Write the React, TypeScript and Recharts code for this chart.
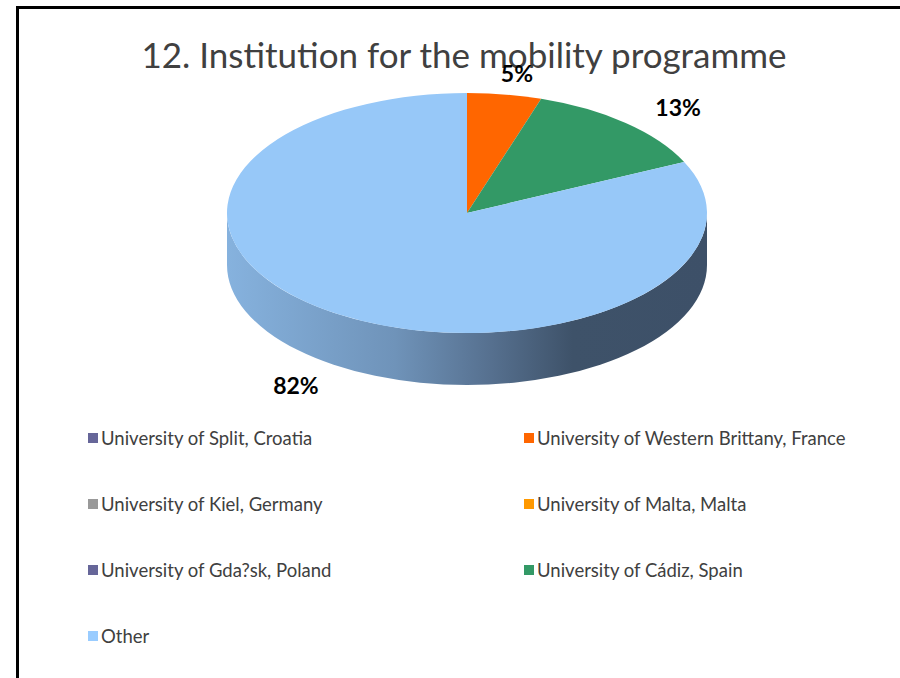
import { PieChart, Pie, Legend } from "recharts"

const institutions = [
  "University of Split, Croatia",
  "University of Western Brittany, France",
  "University of Kiel, Germany",
  "University of Malta, Malta",
  "University of Gda?sk, Poland",
  "University of Cádiz, Spain",
  "Other",
]
const shares = [0, 5, 0, 0, 0, 13, 82]
const colors = ["#666699", "#FF6600", "#999999", "#FF9900", "#666699", "#339966", "#97C8F8"]
const legendColors = ["#666699", "#FF6600", "#999999", "#FF9900", "#666699", "#339966", "#99CCFF"]

const data = institutions.map((name, i) => ({ name, value: shares[i], fill: colors[i] }))

const TILT = 0.5 // ry / rx
const DEPTH = 52
const RAD = Math.PI / 180

// point on the flattened (elliptical) pie
const pt = (cx: number, cy: number, r: number, a: number, dy = 0) =>
  `${cx + r * Math.cos(a * RAD)},${cy - r * TILT * Math.sin(a * RAD) + dy}`

function Slice3D(props: any) {
  const { cx, cy, outerRadius: r, startAngle, endAngle, fill, index } = props
  if (Math.abs(startAngle - endAngle) < 0.01) return <g />
  const rx = r
  const ry = r * TILT
  const large = Math.abs(startAngle - endAngle) > 180 ? 1 : 0
  const top = `M${cx},${cy} L${pt(cx, cy, r, startAngle)} A${rx} ${ry} 0 ${large} 1 ${pt(cx, cy, r, endAngle)} Z`

  // visible front wall: angles between -180 and 0
  const hi = Math.min(Math.max(startAngle, endAngle), 0)
  const lo = Math.max(Math.min(startAngle, endAngle), -180)
  let side = null
  if (hi > lo) {
    const d = `M${pt(cx, cy, r, hi)} A${rx} ${ry} 0 0 1 ${pt(cx, cy, r, lo)} L${pt(cx, cy, r, lo, DEPTH)} A${rx} ${ry} 0 0 0 ${pt(cx, cy, r, hi, DEPTH)} Z`
    side = <path d={d} fill={index === 6 ? "url(#sideGrad)" : fill} stroke="none" />
  }
  return (
    <g>
      {side}
      <path d={top} fill={fill} stroke="none" />
    </g>
  )
}

function renderLabel(props: any) {
  const { cx, cy, midAngle, outerRadius, value, index } = props
  if (!value) return null
  const s = Math.sin(midAngle * RAD)
  const x = cx + outerRadius * 1.33 * Math.cos(midAngle * RAD)
  const y = cy - outerRadius * TILT * 1.18 * s + (s < 0 ? DEPTH : 0)
  return (
    <text
      key={index}
      x={x}
      y={y}
      textAnchor="middle"
      dominantBaseline="central"
      fontFamily="Lato, sans-serif"
      fontWeight="bold"
      fontSize={23}
      fill="#000000"
    >
      {`${Math.round(value)}%`}
    </text>
  )
}

function LegendGrid() {
  return (
    <div
      style={{
        display: "grid",
        gridTemplateColumns: "436px 360px",
        fontFamily: "Lato, sans-serif",
        fontSize: 18.5,
        color: "#404040",
      }}
    >
      {institutions.map((name, i) => (
        <div key={name} style={{ height: 66, display: "flex", alignItems: "center" }}>
          <span
            style={{ width: 10, height: 10, background: legendColors[i], display: "inline-block", marginRight: 3 }}
          />
          <span>{name}</span>
        </div>
      ))}
    </div>
  )
}

export default function App() {
  return (
    <div style={{ position: "absolute", left: 0, top: 0, width: 900, height: 678, background: "#fff", overflow: "hidden" }}>
      <div
        style={{
          position: "absolute",
          left: 16,
          top: 6,
          width: 900,
          height: 700,
          borderLeft: "3px solid #000",
          borderTop: "3px solid #000",
        }}
      />
      <div
        style={{
          position: "absolute",
          left: 14,
          top: 32,
          width: 900,
          textAlign: "center",
          fontFamily: "Lato, sans-serif",
          fontSize: 35,
          lineHeight: "44px",
          color: "#404040",
        }}
      >
        12. Institution for the mobility programme
      </div>
      <div style={{ position: "absolute", left: 0, top: 0 }}>
        <PieChart width={900} height={678} margin={{ top: 0, right: 0, bottom: 0, left: 0 }}>
          <defs>
            <linearGradient id="sideGrad" x1="227" y1="0" x2="707" y2="0" gradientUnits="userSpaceOnUse">
              <stop offset="0" stopColor="#86B2DE" />
              <stop offset="0.35" stopColor="#6F93B9" />
              <stop offset="0.55" stopColor="#56708F" />
              <stop offset="0.72" stopColor="#3E5269" />
              <stop offset="1" stopColor="#3D5068" />
            </linearGradient>
          </defs>
          <Pie
            data={data}
            dataKey="value"
            nameKey="name"
            cx={467}
            cy={213}
            outerRadius={240}
            startAngle={90}
            endAngle={-270}
            stroke="none"
            shape={Slice3D}
            label={renderLabel}
            labelLine={false}
            isAnimationActive={false}
          />
          <Legend
            content={() => <LegendGrid />}
            wrapperStyle={{ position: "absolute", left: 88, top: 405, width: 800 }}
          />
        </PieChart>
      </div>
    </div>
  )
}
